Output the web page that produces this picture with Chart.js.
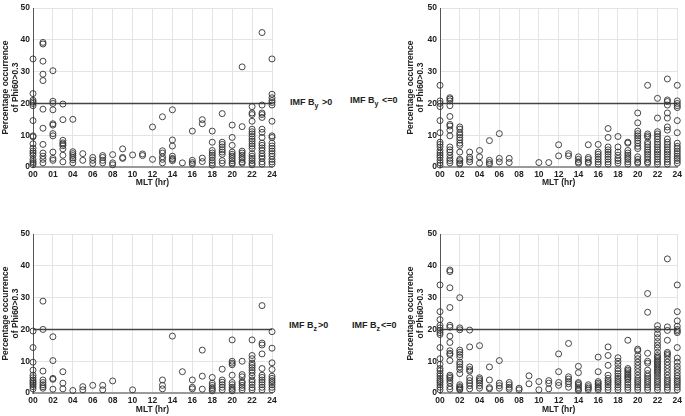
<!DOCTYPE html>
<html>
<head>
<meta charset="utf-8">
<script src="https://cdn.jsdelivr.net/npm/chart.js@4.4.0/dist/chart.umd.min.js"></script>
<style>
  body { margin: 0; background: #fff; }
  #wrap { position: relative; width: 685px; height: 416px; overflow: hidden; font-family: "Liberation Sans", Arial, sans-serif; }
  #wrap canvas { position: absolute; }
  .imf { position: absolute; font-size: 9px; line-height: 10px; font-weight: bold; color: #222; white-space: nowrap; }
  .imf sub { font-size: 7px; line-height: 0; vertical-align: -3px; margin-right: 1px; }
</style>
</head>
<body>
<div id="wrap">
  <canvas id="c1" width="285" height="200" style="left:0;top:0"></canvas>
  <canvas id="c2" width="280" height="200" style="left:405px;top:0"></canvas>
  <canvas id="c3" width="285" height="190" style="left:0;top:226px"></canvas>
  <canvas id="c4" width="280" height="190" style="left:405px;top:226px"></canvas>
  <div class="imf" style="left:290px;top:97px">IMF B<sub>y</sub> &gt;0</div>
  <div class="imf" style="left:350px;top:95px">IMF B<sub>y</sub> &lt;=0</div>
  <div class="imf" style="left:289px;top:320px">IMF B<sub>z</sub>&gt;0</div>
  <div class="imf" style="left:352px;top:320px">IMF B<sub>z</sub>&lt;=0</div>
</div>
<script>
// MLT hours 0..24, one list of percentages per hour
const hours = [0,1,2,3,4,5,6,7,8,9,10,11,12,13,14,15,16,17,18,19,20,21,22,23,24];
const xLabelsFirst = ['00','01','04','06','08','10','12','14','16','18','20','22','24'];
const xLabels = ['00','02','04','06','08','10','12','14','16','18','20','22','24'];
const yTicks = [0, 10, 20, 30, 40, 50];
const threshold = 20;

const byPos = [
  [34, 23.1, 21, 20.5, 20, 19.3, 14.6, 9.8, 9.5, 7.3, 5.9, 5, 4.4, 3.7, 2.4, 1.7, 1.2, 0.7],
  [39.2, 38.7, 33.3, 29.2, 27.2, 18.2, 12.2, 7.1, 4.4, 3.4, 2.4, 1.3],
  [30.3, 20.7, 20, 18, 13.6, 13.2, 10.5, 9.8, 4.7, 2.7, 2.1],
  [19.8, 14.9, 8.4, 7.6, 7.2, 6.7, 5.7, 3.7, 1.6],
  [15, 4.8, 4.2, 3.6, 2.9, 2.3, 1.3],
  [4.2, 2.1],
  [3, 2.1, 1.1],
  [3.6, 3, 2.1, 1.3],
  [3.9, 1.3, 0.7],
  [5.7, 3, 2.7],
  [3.8],
  [4.1, 3.6],
  [12.6, 2.4],
  [15.8, 5.1, 4.4, 3.2, 2.4, 1.3],
  [18, 8.5, 6.6, 3.4, 2.7, 2.4, 2],
  [1.3],
  [11.3, 2.1, 1.4, 0.9],
  [14.9, 13.6, 2.8, 1.7],
  [11.3, 7.8, 5.2, 4.4, 3.7, 3, 2.1, 1.3, 0.6],
  [16.8, 7.8, 7.1, 6.3, 5.4, 4.7, 4, 2, 1.2],
  [13.2, 9.3, 6.8, 4.7, 4, 3.4, 2.7, 2, 1.3, 0.9],
  [31.5, 12.7, 5, 4.4, 3.7, 3, 2.4, 1.6, 1.2],
  [19, 17, 16.5, 14.4, 11.9, 11.1, 10.4, 9.6, 8.8, 8.1, 7.3, 6.6, 5.8, 4.2, 3.4, 2.7, 2, 1.2, 0.7],
  [42.3, 19.5, 17, 16.5, 15.6, 11.9, 10.9, 9.3, 7.5, 6.8, 6, 5.2, 4.2, 3.4, 2.7, 1.6, 0.9],
  [34, 22.9, 21.8, 20.9, 20.3, 19.5, 14.4, 9.8, 9.3, 7.5, 6.6, 5.8, 5, 4.2, 3.4, 2.4, 1.6, 0.9]
];

const byNeg = [
  [25.7, 20.8, 20, 19, 14.6, 10.8, 7.8, 7.1, 6.3, 5.2, 4.4, 3.7, 3, 2.1, 1.3, 0.6],
  [21.8, 21.4, 20.8, 19.3, 15.9, 13.4, 12.9, 11.6, 9.8, 6.3, 5.4, 4.7, 3.7, 2.7, 2, 1.3],
  [12.6, 11.9, 10.8, 10.1, 9.3, 8.5, 7.5, 6.8, 4.7, 2.4, 2, 1.3, 0.9],
  [4.7, 3.1, 2.4, 1.6],
  [5.2, 3.2, 1.2],
  [8.3, 2.1, 1.4, 0.9],
  [10.5, 2.7, 1.6],
  [2.7, 1.4],
  [],
  [],
  [1.4],
  [1.4],
  [7, 3.5],
  [4.2, 3.5],
  [3.2, 2.4, 1.6, 1.2],
  [7, 3, 2.4, 1.6, 1.2],
  [7.1, 4.7, 4, 3.2, 2.4, 1.6, 0.9],
  [12.1, 9.3, 6.3, 5.4, 4.7, 4, 3.2, 2.4, 1.6, 0.9],
  [9.6, 6.3, 4.7, 3.7, 2.7, 2, 1.2],
  [7.8, 7.5, 5.2, 4.4, 3.7, 3, 2.4, 1.6, 0.9],
  [17, 13.9, 11.3, 10.5, 9.8, 9.1, 8.3, 7.5, 6.5, 5.8, 3.2, 2.4, 1.6, 1.2],
  [25.7, 10.4, 9.8, 9.3, 7.8, 7.1, 6.3, 5.4, 4.7, 4, 3.2, 2.4, 1.6, 1.2],
  [21.6, 15.4, 11.1, 10.4, 9.6, 8.8, 7.8, 7.1, 6.3, 5.4, 4.7, 4, 3.2, 2.4, 1.6, 0.9],
  [27.7, 21.1, 20.6, 19.5, 17, 15.4, 12.6, 11.6, 8.8, 7.8, 7.1, 6.3, 5.4, 4.7, 4, 3.2, 2.4, 1.6, 0.9],
  [25.7, 20.8, 20, 19.3, 18.7, 14.6, 10.8, 7.5, 6.5, 5.8, 5, 4.2, 3.4, 2.7, 2, 1.2]
];

const bzPos = [
  [19.5, 14.3, 9.7, 7.2, 5.6, 4.8, 4.1, 3.6, 3.1, 2.6, 2, 1.3],
  [28.9, 20, 6.9, 4.1, 3.3, 2.6, 2, 1.5],
  [17.7, 10.2, 4.6, 4.3, 1.2],
  [6.7, 3.1, 1.3],
  [0.8],
  [2, 1],
  [2.4],
  [2.4, 1],
  [3.8],
  [],
  [1],
  [],
  [],
  [4.1, 2.4, 1.3],
  [17.9],
  [6.7],
  [4.1, 1.8, 1.3],
  [13.5, 5.3, 1.2],
  [4.9, 3.1, 2.4, 1.7, 1.2, 0.7],
  [7.5, 4.1, 3.4, 2.6, 1.8, 1],
  [16.7, 10, 9.4, 8.9, 5.6, 3.3, 2.6, 1.8, 1.2, 0.7],
  [10, 5.8, 5.1, 3.6, 3.1, 2.4, 1.7, 1],
  [16.7, 11.8, 10.8, 9.4, 8.7, 8, 7.2, 6.4, 5.4, 4.1, 3.4, 2.6, 1.7, 1],
  [27.5, 15.7, 15.1, 12.3, 7.7, 5.6, 4.9, 4.1, 3.4, 2.6, 1.8, 1],
  [19.3, 14.1, 9.5, 7.4, 5.3, 4.6, 3.9, 3.3, 2.6, 1.8, 1]
];

const bzNeg = [
  [34, 25.6, 23.1, 21.3, 20.5, 19.7, 19, 18.4, 14.3, 10.8, 9, 7.7, 7, 6.1, 5.4, 4.6, 3.9, 3.3, 2.6, 1.8, 1],
  [38.7, 38.2, 33.1, 26.9, 21.3, 20.7, 17.9, 15.9, 13.3, 12.5, 12.1, 10.2, 5.6, 5.1, 4.6, 3.9, 3.1, 2, 1.2],
  [30, 20.5, 19.9, 13.5, 12.8, 12.1, 11.3, 9.7, 9, 8.2, 7.4, 6.1, 2.6, 2, 1.7, 1.3, 1],
  [19.8, 14.5, 8.2, 7.4, 6.9, 4.8, 3.9, 3.1, 2.3, 1.3],
  [14.9, 4.8, 4.3, 3.8, 3.1, 2.3, 1.5],
  [8.2, 4.1, 1.7, 1.3],
  [10.2, 3.1, 2.3, 1.5],
  [3.3, 2.6, 1.8, 1.2],
  [1.5, 1],
  [5.4, 2.9],
  [3.6, 1],
  [3.9, 3.1, 1.3],
  [12.3, 6.7, 3.3, 2.4],
  [15.6, 5.1, 4.4, 3.6, 2.9, 1.8],
  [8.4, 6.4, 3.3, 2.9, 2.4, 1.7, 1.2, 0.8],
  [2.6, 2, 1.5, 1],
  [11.3, 6.7, 3.6, 3.1, 2.6, 2, 1.5, 1],
  [14.5, 11.8, 8.7, 5.6, 4.6, 3.9, 3.3, 2.6, 1.8, 1],
  [11.1, 10, 9, 7.7, 6.9, 6.1, 5.3, 4.6, 3.9, 3.3, 2.6, 1.8, 1],
  [16.6, 7.7, 7.2, 6.7, 6.1, 5.6, 5.1, 4.6, 4.1, 3.3, 2.6, 1.8, 1],
  [13.8, 13.3, 11.8, 10.8, 9.7, 8.7, 7.7, 6.7, 5.6, 4.6, 3.9, 3.3, 2.6, 1.8, 1],
  [31.3, 25.4, 12.5, 10, 9.4, 7.2, 6.1, 5.3, 4.6, 3.9, 3.3, 2.6, 1.8, 1],
  [21.2, 20, 18.6, 17.4, 16.2, 15.1, 14.1, 12.8, 11.8, 11.3, 10.8, 10.2, 9.7, 9.2, 8.7, 8.2, 7.7, 7.2, 6.7, 6.1, 5.4, 4.6, 3.9, 3.3, 2.6, 1.8, 1],
  [42.2, 20.8, 19.7, 16.6, 12.8, 12.3, 11.8, 10.8, 9.7, 8.7, 7.7, 6.7, 5.6, 4.6, 3.9, 3.3, 2.6, 1.8, 1],
  [34, 25.6, 22.7, 21, 20, 19.5, 19, 14.3, 11, 9.7, 8.4, 7.4, 6.4, 5.4, 4.6, 3.9, 3.3, 2.6, 1.8, 1]
];

Chart.defaults.font.family = '"Liberation Sans", Arial, sans-serif';
Chart.defaults.font.weight = 'bold';
Chart.defaults.font.size = 8.5;
Chart.defaults.color = '#222';

function toPoints(columns) {
  const pts = [];
  columns.forEach((col, i) => {
    col.forEach(v => pts.push({ x: hours[i], y: v }));
  });
  return pts;
}

function makePanel(id, columns, labels, axisW, areaTop, rightPad, xAxisH, titlePad) {
  const ctx = document.getElementById(id).getContext('2d');
  return new Chart(ctx, {
    type: 'scatter',
    data: {
      datasets: [
        {
          data: toPoints(columns),
          pointStyle: 'circle',
          pointRadius: 3,
          borderWidth: 0.9,
          borderColor: '#333',
          backgroundColor: 'rgba(0,0,0,0)',
          clip: false
        },
        {
          data: [{ x: hours[0], y: threshold }, { x: hours[hours.length - 1], y: threshold }],
          showLine: true,
          pointRadius: 0,
          borderColor: '#444',
          borderWidth: 1.5
        }
      ]
    },
    options: {
      responsive: false,
      animation: false,
      events: [],
      layout: { padding: { left: 0, top: areaTop, right: rightPad, bottom: 0 } },
      plugins: { legend: { display: false }, tooltip: { enabled: false } },
      scales: {
        x: {
          type: 'linear',
          min: 0,
          max: 24,
          afterFit: s => { s.height = xAxisH; },
          grid: { color: '#e4e4e4', drawTicks: false },
          border: { color: '#9a9a9a', width: 2 },
          ticks: {
            stepSize: 2,
            padding: 3,
            maxRotation: 0,
            callback: v => labels[v / 2]
          },
          title: { display: true, text: 'MLT (hr)', padding: { top: 0, bottom: titlePad } }
        },
        y: {
          min: 0,
          max: 50,
          afterFit: s => { s.width = axisW; },
          grid: { color: '#e4e4e4', drawTicks: false },
          border: { color: '#555', width: 1 },
          afterBuildTicks: s => { s.ticks = yTicks.map(v => ({ value: v })); },
          ticks: { padding: 3 },
          title: {
            display: true,
            text: ['Percentage occurrence', 'of Phi60>0.3'],
            padding: { top: 1, bottom: 0 },
            font: { size: 8.5, lineHeight: 1.15 }
          }
        }
      }
    }
  });
}

makePanel('c1', byPos, xLabelsFirst, 33, 4, 13, 33, 12);
makePanel('c2', byNeg, xLabels, 35, 4, 6, 33, 12);
makePanel('c3', bzPos, xLabels, 33, 5, 13, 23, 1);
makePanel('c4', bzNeg, xLabels, 35, 5, 6, 23, 1);
</script>
</body>
</html>
